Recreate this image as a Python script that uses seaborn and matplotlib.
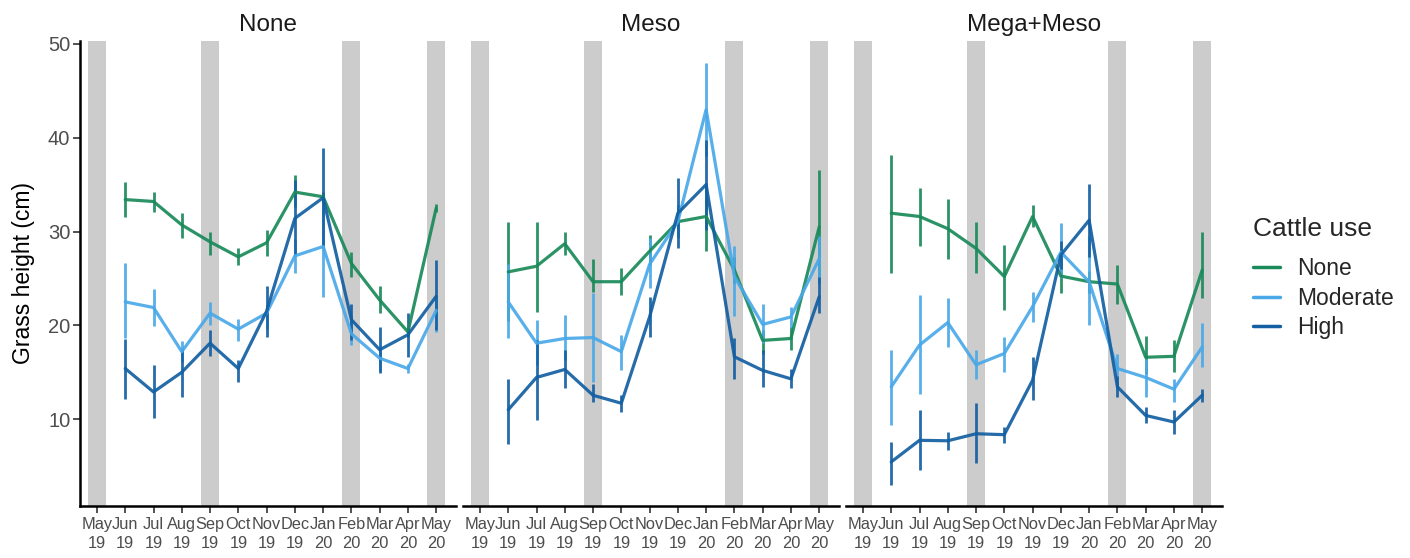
import numpy as np
import pandas as pd
import matplotlib
matplotlib.use("Agg")
import matplotlib.pyplot as plt
import seaborn as sns

# ---------------- data ----------------
tick_labels = ["May\n19", "Jun\n19", "Jul\n19", "Aug\n19", "Sep\n19", "Oct\n19", "Nov\n19",
               "Dec\n19", "Jan\n20", "Feb\n20", "Mar\n20", "Apr\n20", "May\n20"]
months = ["Jun 19", "Jul 19", "Aug 19", "Sep 19", "Oct 19", "Nov 19", "Dec 19",
          "Jan 20", "Feb 20", "Mar 20", "Apr 20", "May 20"]
shaded_months = ["May 19", "Sep 19", "Feb 20", "May 20"]
panels = ["None", "Meso", "Mega+Meso"]
cattle_levels = ["None", "Moderate", "High"]

# Panel "None"
none_none_mean = [33.4, 33.2, 30.7, 28.9, 27.3, 28.8, 34.2, 33.7, 26.6, 22.7, 19.3, 32.5]
none_none_lo = [31.5, 32.1, 29.3, 27.5, 26.4, 27.4, 32.6, 33.2, 25.2, 21.3, 18.8, 32.1]
none_none_hi = [35.3, 34.2, 32.0, 30.0, 28.2, 30.2, 36.0, 34.2, 27.8, 24.2, 19.8, 32.9]
none_mod_mean = [22.5, 21.9, 17.2, 21.3, 19.6, 21.3, 27.4, 28.4, 19.1, 16.5, 15.4, 21.6]
none_mod_lo = [18.6, 19.9, 16.1, 20.0, 18.3, 19.6, 25.6, 23.0, 17.9, 15.1, 14.9, 19.3]
none_mod_hi = [26.6, 23.9, 18.3, 22.5, 20.7, 22.2, 29.2, 33.5, 21.1, 17.6, 15.9, 23.1]
none_high_mean = [15.4, 12.9, 15.0, 18.1, 15.4, 21.5, 31.4, 33.6, 20.6, 17.4, 19.0, 23.1]
none_high_lo = [12.2, 10.1, 12.4, 16.7, 14.0, 18.8, 27.5, 28.5, 18.4, 14.9, 16.6, 19.5]
none_high_hi = [18.5, 15.8, 17.5, 19.5, 16.3, 24.2, 35.5, 38.9, 22.3, 19.8, 21.3, 27.0]

# Panel "Meso"
meso_none_mean = [25.7, 26.3, 28.7, 24.65, 24.65, 27.9, 31.05, 31.6, 25.9, 18.4, 18.6, 30.5]
meso_none_lo = [20.5, 21.45, 27.5, 23.6, 23.25, 26.4, 29.5, 27.9, 24.5, 17.0, 17.4, 24.5]
meso_none_hi = [31.05, 31.05, 30.0, 27.1, 26.1, 29.6, 32.6, 35.2, 27.3, 19.5, 19.85, 36.6]
meso_mod_mean = [22.5, 18.1, 18.6, 18.7, 17.2, 26.5, 31.05, 43.0, 25.2, 20.1, 20.9, 27.1]
meso_mod_lo = [18.6, 15.8, 16.3, 14.0, 15.2, 24.0, 29.3, 38.0, 21.0, 18.1, 19.7, 24.5]
meso_mod_hi = [26.5, 20.6, 21.1, 23.4, 19.0, 29.3, 32.8, 48.0, 28.5, 22.3, 22.0, 29.5]
meso_high_mean = [11.0, 14.45, 15.3, 12.55, 11.7, 20.9, 31.95, 35.0, 16.65, 15.2, 14.3, 23.05]
meso_high_lo = [7.4, 9.9, 13.3, 11.85, 10.8, 18.8, 28.2, 30.2, 14.3, 13.45, 13.3, 21.3]
meso_high_hi = [14.3, 18.4, 17.4, 13.8, 12.55, 23.05, 35.7, 39.8, 18.6, 17.4, 15.4, 25.2]

# Panel "Mega+Meso"
mega_none_mean = [31.95, 31.6, 30.3, 28.2, 25.2, 31.6, 25.25, 24.65, 24.4, 16.6, 16.7, 25.9]
mega_none_lo = [25.55, 28.5, 27.1, 25.55, 21.6, 30.5, 23.5, 23.5, 22.3, 14.8, 15.05, 22.9]
mega_none_hi = [38.2, 34.6, 33.5, 31.05, 28.6, 32.8, 26.5, 25.8, 26.4, 18.9, 18.4, 30.0]
mega_mod_mean = [13.45, 17.9, 20.3, 15.8, 17.0, 22.0, 27.8, 24.65, 15.4, 14.45, 13.2, 17.7]
mega_mod_lo = [9.35, 12.7, 17.7, 14.3, 15.05, 20.4, 25.0, 20.0, 13.45, 12.4, 11.8, 15.6]
mega_mod_hi = [17.4, 23.25, 22.9, 17.4, 18.8, 23.6, 30.9, 29.5, 17.0, 16.4, 14.3, 20.2]
mega_high_mean = [5.45, 7.75, 7.7, 8.45, 8.35, 14.15, 27.5, 31.2, 13.45, 10.4, 9.7, 12.55]
mega_high_lo = [2.95, 4.55, 6.7, 5.3, 7.5, 12.0, 26.0, 27.3, 12.4, 9.55, 8.45, 11.85]
mega_high_hi = [7.6, 11.0, 8.65, 11.7, 9.2, 16.65, 29.0, 35.1, 14.6, 11.3, 11.0, 13.2]

colors = {"None": "#1a8a5a", "Moderate": "#4aa8e8", "High": "#135fa2"}

# ------------- build long table -------------
series = {
    ("None", "None"): (none_none_mean, none_none_lo, none_none_hi),
    ("None", "Moderate"): (none_mod_mean, none_mod_lo, none_mod_hi),
    ("None", "High"): (none_high_mean, none_high_lo, none_high_hi),
    ("Meso", "None"): (meso_none_mean, meso_none_lo, meso_none_hi),
    ("Meso", "Moderate"): (meso_mod_mean, meso_mod_lo, meso_mod_hi),
    ("Meso", "High"): (meso_high_mean, meso_high_lo, meso_high_hi),
    ("Mega+Meso", "None"): (mega_none_mean, mega_none_lo, mega_none_hi),
    ("Mega+Meso", "Moderate"): (mega_mod_mean, mega_mod_lo, mega_mod_hi),
    ("Mega+Meso", "High"): (mega_high_mean, mega_high_lo, mega_high_hi),
}
all_months = [t.replace("\n", " ") for t in tick_labels]
month_pos = {m: i for i, m in enumerate(all_months)}
rows = []
for (panel, cattle), (mean, lo, hi) in series.items():
    for m, v, l, h in zip(months, mean, lo, hi):
        rows.append(dict(panel=panel, cattle=cattle, month=m, x=month_pos[m],
                         height=v, lo=l, hi=h))
df = pd.DataFrame(rows)

# ------------- plot -------------
sns.set_theme(style="white")
plt.rcParams["font.family"] = ["Liberation Sans", "DejaVu Sans"]

W, H = 1410, 558
fig = plt.figure(figsize=(W / 100, H / 100), dpi=100)
lefts = [80, 463, 846]
pw = 376
bottom_px, top_px = 506, 41
axes = []
for i, panel in enumerate(panels):
    ax = fig.add_axes([lefts[i] / W, 1 - bottom_px / H, pw / W, (bottom_px - top_px) / H])
    axes.append(ax)
    sub = df[df.panel == panel]
    for m in shaded_months:
        p = month_pos[m]
        ax.axvspan(p - 0.32, p + 0.32, color="#cccccc", lw=0, zorder=0)
    for c in cattle_levels:
        s = sub[sub.cattle == c]
        ax.vlines(s["x"], s["lo"], s["hi"], color=colors[c], lw=2.0, alpha=0.92, zorder=2)
    sns.lineplot(data=sub, x="x", y="height", hue="cattle", hue_order=cattle_levels,
                 palette=colors, ax=ax, lw=2.3, alpha=0.92, errorbar=None, sort=False,
                 legend=(i == 2), zorder=3)
    ax.set_xlim(-0.6, 12.7)
    ax.set_ylim(0.75, 50.3)
    ax.set_xticks(range(len(tick_labels)))
    ax.set_xticklabels(tick_labels, fontsize=11.8, color="#4d4d4d", linespacing=1.3)
    ax.set_title(panel, fontsize=17.5, color="#1a1a1a", pad=7)
    ax.set_xlabel("")
    for sp in ["top", "right"]:
        ax.spines[sp].set_visible(False)
    ax.spines["bottom"].set_color("black")
    ax.spines["bottom"].set_linewidth(1.8)
    ax.tick_params(axis="x", bottom=True, length=5, width=1.2, color="#333333", pad=3)
    if i == 0:
        ax.set_yticks([10, 20, 30, 40, 50])
        ax.set_yticklabels(["10", "20", "30", "40", "50"], fontsize=14.5, color="#4d4d4d")
        ax.tick_params(axis="y", left=True, length=5, width=1.2, color="#333333", pad=2)
        ax.spines["left"].set_color("black")
        ax.spines["left"].set_linewidth(1.8)
        ax.set_ylabel("Grass height (cm)", fontsize=16.5, color="black", labelpad=9)
    else:
        ax.spines["left"].set_visible(False)
        ax.set_yticks([])
        ax.set_ylabel("")

# legend
handles, labels = axes[2].get_legend_handles_labels()
axes[2].get_legend().remove()
leg = fig.legend(handles, labels, title="Cattle use", loc="upper left",
                 bbox_to_anchor=(1232 / W, 1 - 196 / H), frameon=False,
                 fontsize=16.5, title_fontsize=19, handlelength=1.2,
                 labelspacing=0.28, handletextpad=0.75)
leg._legend_box.align = "left"
leg._legend_box.sep = 12
for lh in leg.get_lines():
    lh.set_linewidth(2.5)
    lh.set_alpha(1)

fig.savefig("out.png", dpi=100)
